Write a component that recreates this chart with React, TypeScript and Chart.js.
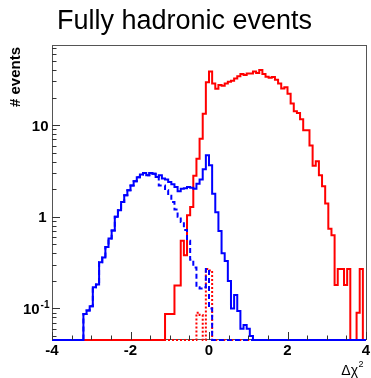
import React, { useEffect, useRef } from "react";
import { Chart, registerables } from "chart.js";
Chart.register(...registerables);

const X_MIN = -4;
const X_MAX = 4;
const N_BINS = 100;
const Y_MIN = 0.0453;
const Y_MAX = 75;

const titleText = "Fully hadronic events";
const yAxisTitle = "# events";
const xAxisTitle = "\u0394\u03c7";

const xTickValues = [-4, -2, 0, 2, 4];
const xTickLabels = ["-4", "-2", "0", "2", "4"];
const yTickValues = [0.1, 1, 10];
const yTickLabels = [["10", "-1"], ["1", ""], ["10", ""]];

// blue solid: bins starting at index 10 (x = -3.2)
const blueSolidStart = 10;
const blueSolid = [
  0.087, 0.095, 0.106, 0.17, 0.183, 0.32, 0.36, 0.47, 0.58, 0.71,
  1.0, 1.18, 1.45, 1.72, 1.95, 2.2, 2.45, 2.7, 2.9, 3.0,
  2.85, 3.0, 2.95, 2.72, 2.85, 2.62, 2.55, 2.4, 2.27, 2.12,
  1.9, 2.03, 2.05, 2.12, 2.08, 2.03, 2.3, 2.55, 3.3, 4.7,
  3.66, 1.79, 1.12, 0.7, 0.4, 0.33, 0.2, 0.1, 0.14, 0.094,
  0.06, 0.066, 0.06, 0.05,
];

// blue dashed: differs from the solid one from bin 34 on (same before)
const blueDashedStart = 34;
const blueDashed = [
  2.2, 2.2, 1.95, 1.7, 1.45, 1.2, 1.0, 0.88, 0.72, 0.55,
  0.34, 0.28, 0.17, 0.165, 0.17, 0.27, 0.1,
];

// red solid: bins starting at index 36 (x = -1.12)
const redSolidStart = 36;
const redSolid = [
  0.087, 0.087, 0.087, 0.178, 0.178, 0.55, 0.38, 1.04, 1.28, 2.8,
  4.3, 7.1, 13.3, 29.5, 38.5, 28.5, 25, 27.5, 27, 28.5,
  29.7, 30.5, 32.4, 34.3, 36.2, 35.2, 36.6, 36.6, 38.5, 37.2,
  40, 36.2, 33.7, 33, 33.5, 31.4, 28.5, 25.2, 26, 22,
  17.2, 14.2, 13.6, 11.6, 8.8, 8.8, 6.0, 3.6, 4.05, 2.84,
  2.15, 1.4, 0.74, 0.63, 0.18, 0.27, 0.27, 0.18, 0.27, 0,
  0, 0.09, 0.27, 0,
];

// red dotted: bins starting at index 46
const redDottedStart = 46;
const redDotted = [0.09, 0.085, 0, 0.27, 0.26];

function binValue(start: number, values: number[], i: number): number {
  const j = i - start;
  return j >= 0 && j < values.length ? values[j] : 0;
}

function toPoints(getter: (i: number) => number) {
  const w = (X_MAX - X_MIN) / N_BINS;
  const pts: { x: number; y: number }[] = [];
  for (let i = 0; i < N_BINS; i++) {
    const v = getter(i);
    pts.push({ x: X_MIN + i * w, y: v > 0 ? v : Y_MIN });
  }
  pts.push({ x: X_MAX, y: pts[pts.length - 1].y });
  return pts;
}

const rootStyle = {
  id: "rootStyle",
  beforeDatasetsDraw(chart: any) {
    const { ctx, chartArea: a } = chart;
    ctx.save();
    ctx.strokeStyle = "#555";
    ctx.lineWidth = 1;
    ctx.strokeRect(a.left + 0.5, a.top + 0.5, a.right - a.left, a.bottom - a.top - 1);
    ctx.restore();
  },
  afterDatasetsDraw(chart: any) {
    const { ctx, chartArea: a, scales } = chart;
    const xs = scales.x;
    const ys = scales.y;
    ctx.save();
    ctx.strokeStyle = "#333";
    ctx.lineWidth = 1;
    ctx.beginPath();
    // x ticks every 0.5, major every 2
    for (let k = 0; k <= 16; k++) {
      const v = X_MIN + k * 0.5;
      const px = Math.round(xs.getPixelForValue(v)) + 0.5;
      const len = k % 4 === 0 ? 8 : 4.5;
      ctx.moveTo(px, a.bottom);
      ctx.lineTo(px, a.bottom - len);
    }
    // y ticks (log)
    for (let e = -2; e <= 2; e++) {
      for (let m = 1; m <= 9; m++) {
        const v = m * Math.pow(10, e);
        if (v < Y_MIN || v > Y_MAX) continue;
        const py = Math.round(ys.getPixelForValue(v)) + 0.5;
        const len = m === 1 ? 8 : 4.5;
        ctx.moveTo(a.left, py);
        ctx.lineTo(a.left + len, py);
      }
    }
    ctx.stroke();

    // x tick labels
    ctx.fillStyle = "#000";
    ctx.font = "bold 15px 'Liberation Sans', Arial, sans-serif";
    ctx.textAlign = "center";
    ctx.textBaseline = "alphabetic";
    xTickValues.forEach((v, idx) => {
      ctx.fillText(xTickLabels[idx], xs.getPixelForValue(v), 355);
    });

    // y tick labels
    yTickValues.forEach((v, idx) => {
      const py = ys.getPixelForValue(v);
      const [base, sup] = yTickLabels[idx];
      const right = 48.5;
      ctx.textAlign = "right";
      if (sup) {
        ctx.font = "bold 10px 'Liberation Sans', Arial, sans-serif";
        const sw = ctx.measureText(sup).width;
        ctx.fillText(sup, right + 1, py);
        ctx.font = "bold 15px 'Liberation Sans', Arial, sans-serif";
        ctx.fillText(base, right - sw, py + 5.5);
      } else {
        ctx.font = "bold 15px 'Liberation Sans', Arial, sans-serif";
        ctx.fillText(base, right - (base === "1" ? 2 : 0), py + 5.5);
      }
    });

    // y axis title
    ctx.save();
    ctx.translate(20, a.top + 2);
    ctx.rotate(-Math.PI / 2);
    ctx.textAlign = "right";
    ctx.font = "bold 15px 'Liberation Sans', Arial, sans-serif";
    ctx.fillText(yAxisTitle, 0, 0);
    ctx.restore();

    // x axis title
    ctx.font = "14px 'Liberation Sans', Arial, sans-serif";
    ctx.textAlign = "right";
    ctx.fillText(xAxisTitle, 358, 375);
    ctx.font = "9px 'Liberation Sans', Arial, sans-serif";
    ctx.textAlign = "left";
    ctx.fillText("2", 358.5, 367);

    // title
    ctx.font = "27px 'Liberation Sans', Arial, sans-serif";
    ctx.textAlign = "center";
    ctx.fillText(titleText, 184.5, 29);
    ctx.restore();
  },
};

export default function App() {
  const ref = useRef<HTMLCanvasElement | null>(null);
  useEffect(() => {
    if (!ref.current) return;
    const blueSolidPts = toPoints((i) => binValue(blueSolidStart, blueSolid, i));
    const blueDashedPts = toPoints((i) =>
      i < blueDashedStart ? binValue(blueSolidStart, blueSolid, i) : binValue(blueDashedStart, blueDashed, i)
    );
    const redSolidPts = toPoints((i) => binValue(redSolidStart, redSolid, i));
    const redDottedPts = toPoints((i) => binValue(redDottedStart, redDotted, i));
    const common = {
      stepped: "before" as const,
      pointRadius: 0,
      borderWidth: 2,
      fill: false,
      clip: { left: 0, right: 0, top: 0, bottom: 2 },
    };
    const chart = new Chart(ref.current, {
      type: "line",
      data: {
        datasets: [
          { ...common, label: "blue", data: blueSolidPts, borderColor: "#0000ff", order: 0 },
          { ...common, label: "blue dashed", data: blueDashedPts, borderColor: "#0000ff", borderDash: [5, 3], order: 1 },
          { ...common, label: "red", data: redSolidPts, borderColor: "#ff0000", order: 2 },
          { ...common, label: "red dotted", data: redDottedPts, borderColor: "#ff0000", borderDash: [2, 2], order: 3 },
        ],
      },
      options: {
        responsive: false,
        animation: false,
        devicePixelRatio: 1,
        events: [],
        layout: { padding: { left: 52, right: 5, top: 45, bottom: 38 } },
        plugins: { legend: { display: false }, tooltip: { enabled: false }, title: { display: false } },
        scales: {
          x: { type: "linear", min: X_MIN, max: X_MAX, display: false },
          y: { type: "logarithmic", min: Y_MIN, max: Y_MAX, display: false },
        },
      },
      plugins: [rootStyle],
    });
    return () => chart.destroy();
  }, []);
  return (
    <div style={{ position: "fixed", left: 0, top: 0, width: 371, height: 378, background: "#fff" }}>
      <canvas ref={ref} width={371} height={378} style={{ width: 371, height: 378, display: "block" }} />
    </div>
  );
}
